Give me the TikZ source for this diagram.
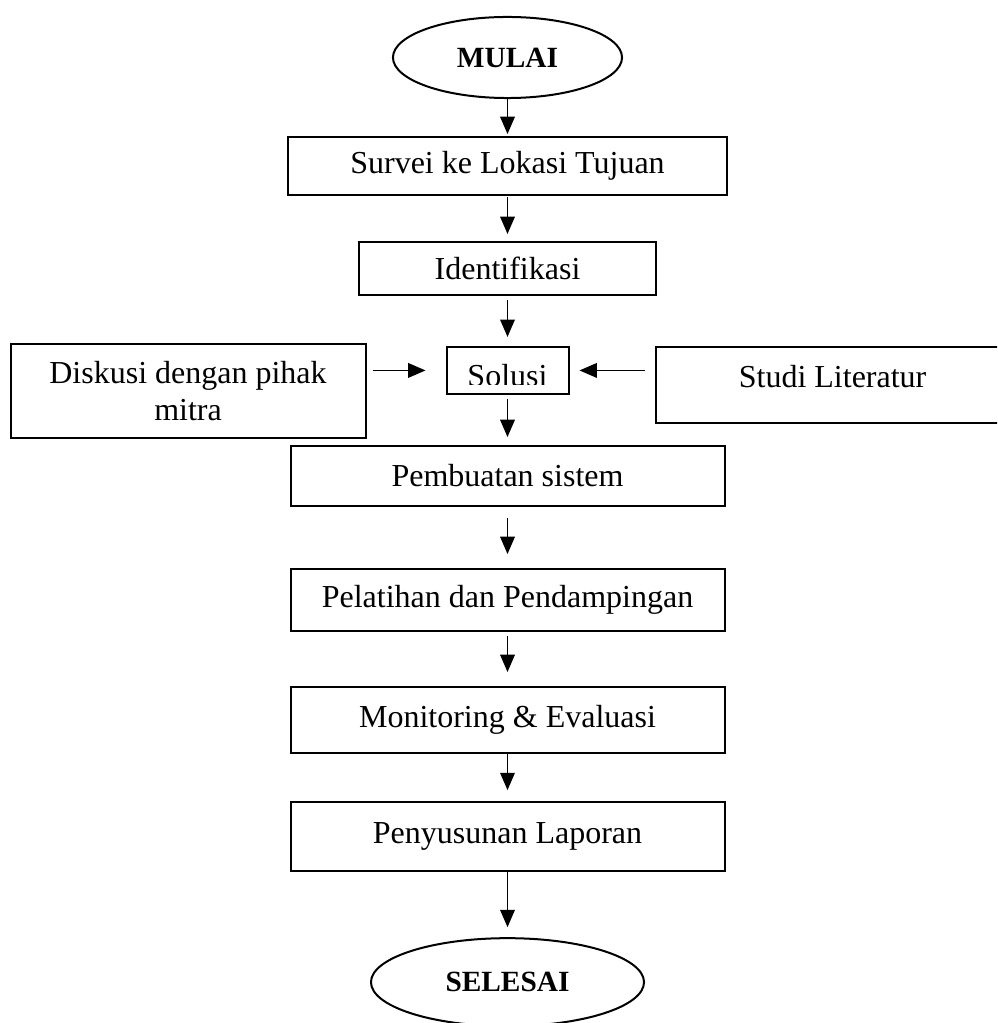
\documentclass[tikz,border=0pt]{standalone}
\usepackage{fontspec}
\setmainfont{Liberation Serif}
\usetikzlibrary{positioning,shapes.geometric,arrows.meta}

\begin{document}
\begin{tikzpicture}[-{Triangle[length=6.5pt,width=5.5pt]}, line width=0.5pt,
x=0.375pt, y=-0.375pt, on grid,
proc/.style ={draw, rectangle, line width=0.75pt, inner sep=0pt, align=center,
font=\fontsize{12}{13.8}\selectfont},
term/.style ={draw, ellipse, line width=0.75pt, inner sep=0pt,
font=\fontsize{11}{13}\selectfont\bfseries}]
\useasboundingbox (0,0) rectangle (997,1023);
\clip (0,0) rectangle (997,1023);
\node[term, minimum width=85.9pt, minimum height=30.4pt] (mulai) at (507.5,57.5) {MULAI};
\node[proc, minimum width=164.6pt, minimum height=21.75pt] (survei) [below=40.7pt of mulai] {Survei ke Lokasi Tujuan};
\node[proc, minimum width=111.4pt, minimum height=19.9pt] (ident) [below=38.4pt of survei] {Identifikasi};
\path (mulai) edge[shorten >=0.75pt] (survei);
\path (survei) edge[shorten <=0.4pt, shorten >=2.6pt] (ident);

% solusi: the text is cut off at the bottom as in the original
\node[proc, minimum width=45.75pt, minimum height=17.6pt,
path picture={\clip ([yshift=-5.1pt]path picture bounding box.west) rectangle (path picture bounding box.north east);
\node[draw=none, anchor=base, inner sep=0pt, font=\fontsize{12}{13.8}\selectfont]
at ([yshift=-6.2pt]path picture bounding box.center) {Solusi};}]
(solusi) [below=38.25pt of ident] {};
\node[proc, minimum width=133.1pt, minimum height=35.25pt] (diskusi) [below left=7.7pt and 119.8pt of solusi] {Diskusi dengan pihak\\mitra};
\node[proc, minimum width=132.75pt, minimum height=28.5pt, text depth=6pt] (studi) [below right=5.4pt and 121.9pt of solusi] {Studi Literatur};
\path (ident) edge[shorten <=1.5pt, shorten >=3.4pt] (solusi);
\path (diskusi.east |- solusi) edge[shorten <=2.25pt, shorten >=7.5pt] (solusi);
\path (studi.west |- solusi) edge[shorten <=3.75pt, shorten >=3.75pt] (solusi);

\node[proc, minimum width=162.75pt, minimum height=22.5pt] (sistem) [below=39.6pt of solusi] {Pembuatan sistem};
\node[proc, minimum width=162.75pt, minimum height=23.25pt] (latih) [below=46.5pt of sistem] {Pelatihan dan Pendampingan};
\node[proc, minimum width=162.75pt, minimum height=24.75pt] (monev) [below=45pt of latih] {Monitoring \& Evaluasi};
\node[proc, minimum width=162.75pt, minimum height=25.9pt] (lapor) [below=43.7pt of monev] {Penyusunan Laporan};
\node[term, minimum width=102.4pt, minimum height=33pt] (selesai) [below=54.6pt of lapor] {SELESAI};
\path (solusi) edge[shorten <=1.5pt, shorten >=3pt] (sistem);
\path (sistem) edge[shorten <=4.1pt, shorten >=5.25pt] (latih);
\path (latih) edge[shorten <=1.5pt, shorten >=5.25pt] (monev);
\path (monev) edge[shorten >=4.1pt] (lapor);
\path (lapor) edge[shorten >=3.75pt] (selesai);
\end{tikzpicture}
\end{document}
